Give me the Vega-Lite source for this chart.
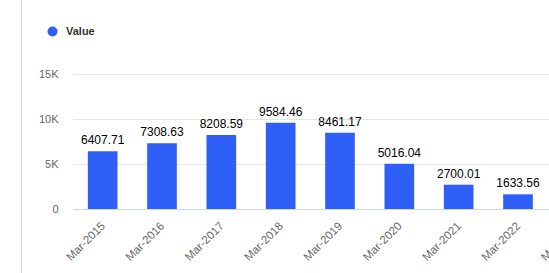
{
  "$schema": "https://vega.github.io/schema/vega-lite/v6.json",
  "autosize": {"type": "none"},
  "padding": {"left": 73, "top": 74, "right": 0, "bottom": 64},
  "width": 534,
  "height": 135,
  "config": {"view": {"stroke": null}, "font": "Liberation Sans"},
  "data": {
    "values": [
      {"date": "Mar-2015", "value": 6407.71, "series": "Value"},
      {"date": "Mar-2016", "value": 7308.63, "series": "Value"},
      {"date": "Mar-2017", "value": 8208.59, "series": "Value"},
      {"date": "Mar-2018", "value": 9584.46, "series": "Value"},
      {"date": "Mar-2019", "value": 8461.17, "series": "Value"},
      {"date": "Mar-2020", "value": 5016.04, "series": "Value"},
      {"date": "Mar-2021", "value": 2700.01, "series": "Value"},
      {"date": "Mar-2022", "value": 1633.56, "series": "Value"}
    ]
  },
  "encoding": {
    "x": {
      "field": "date",
      "type": "nominal",
      "sort": null,
      "scale": {
        "domain": ["Mar-2015", "Mar-2016", "Mar-2017", "Mar-2018", "Mar-2019", "Mar-2020", "Mar-2021", "Mar-2022", "Mar-2023"],
        "paddingInner": 0.5,
        "paddingOuter": 0.25
      },
      "axis": {
        "title": null,
        "domainColor": "#ccd6eb",
        "ticks": false,
        "tickSize": 0,
        "grid": false,
        "labelAngle": -45,
        "labelAlign": "right",
        "labelBaseline": "middle",
        "labelPadding": 15,
        "labelOffset": 1,
        "labelColor": "#666666",
        "labelFontSize": 11.5
      }
    }
  },
  "layer": [
    {
      "mark": {"type": "bar"},
      "encoding": {
        "y": {
          "field": "value",
          "type": "quantitative",
          "scale": {"domain": [0, 15000], "nice": false},
          "axis": {
            "title": null,
            "orient": "left",
            "grid": true,
            "gridColor": "#e6e6e6",
            "domain": false,
            "ticks": false,
            "tickSize": 0,
            "labelPadding": 15,
            "labelColor": "#666666",
            "labelFontSize": 11,
            "values": [0, 5000, 10000, 15000],
            "labelExpr": "datum.value == 0 ? '0' : datum.value / 1000 + 'K'"
          }
        },
        "color": {
          "field": "series",
          "type": "nominal",
          "scale": {"range": ["#2f5ff7"]},
          "legend": {
            "title": null,
            "orient": "none",
            "legendX": -26,
            "legendY": -48,
            "padding": 0,
            "symbolType": "circle",
            "symbolSize": 100,
            "symbolStrokeWidth": 0,
            "labelFont": "Liberation Sans",
            "labelFontWeight": "bold",
            "labelFontSize": 11,
            "labelColor": "#333333",
            "labelOffset": 8
          }
        }
      }
    },
    {
      "mark": {"type": "text", "baseline": "alphabetic", "dy": -7, "fontSize": 12, "color": "#000000"},
      "encoding": {
        "y": {
          "field": "value",
          "type": "quantitative",
          "scale": {"domain": [0, 15000], "nice": false},
          "axis": null
        },
        "text": {"field": "value", "type": "quantitative", "format": ".2f"}
      }
    },
    {
      "mark": {"type": "point", "opacity": 0},
      "encoding": {
        "y": {
          "field": "value",
          "type": "quantitative",
          "scale": {"domain": [0, 1], "range": [199, -74], "nice": false, "zero": false},
          "axis": {
            "orient": "left",
            "offset": 52,
            "title": null,
            "labels": false,
            "ticks": false,
            "grid": false,
            "domain": true,
            "domainColor": "#d9d9d9"
          }
        }
      }
    }
  ],
  "resolve": {"scale": {"y": "independent"}, "axis": {"y": "independent"}}
}
